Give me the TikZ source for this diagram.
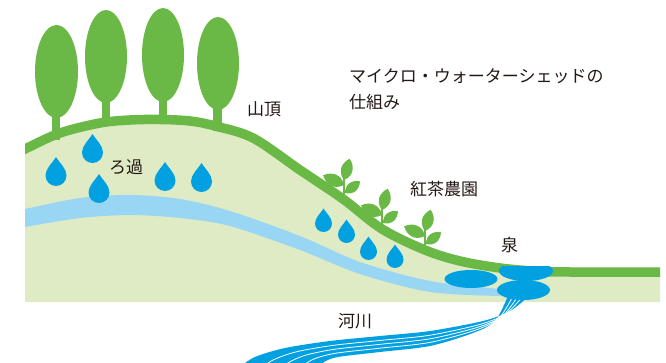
\documentclass[tikz,border=0pt]{standalone}
\usepackage{fontspec}
\newfontfamily\jpfont{Noto Sans CJK JP}
\usetikzlibrary{calc}
\definecolor{leafgreen}{RGB}{106,184,69}
\definecolor{groundgreen}{RGB}{222,235,196}
\definecolor{waterblue}{RGB}{0,160,225}
\definecolor{streamblue}{RGB}{152,214,244}
\definecolor{labeltext}{RGB}{35,24,21}
\tikzset{
  jplabel/.style={font=\jpfont\fontsize{17}{26}\selectfont, text=labeltext, inner sep=0pt, anchor=west, align=left},
  ridgeline/.style={draw=leafgreen, line width=9.5pt},
  drop/.pic={\fill[waterblue] (0,-1.75) .. controls (0.35,-1.2) and (1,-0.65) .. (1,0)
      .. controls (1,0.5523) and (0.5523,1) .. (0,1)
      .. controls (-0.5523,1) and (-1,0.5523) .. (-1,0)
      .. controls (-1,-0.65) and (-0.35,-1.2) .. (0,-1.75) -- cycle;},
  leaf/.pic={\fill[leafgreen] (0,0) .. controls (0.28,-0.36) and (0.7,-0.34) .. (1,0)
      .. controls (0.7,0.34) and (0.28,0.36) .. (0,0) -- cycle;},
  sprout/.pic={
    \fill[leafgreen] (-1.3,4) rectangle (1.3,-23);
    \pic[rotate=75, scale=22] at (0,-19) {leaf};
    \pic[rotate=155, scale=23] at (0,-14) {leaf};
    \pic[rotate=38, scale=19] at (1,-6) {leaf};
  },
}
\begin{document}
\begin{tikzpicture}[x=1pt,y=-1pt]
\useasboundingbox (0,0) rectangle (666,363);
\begin{scope}
\clip (0,0) rectangle (666,363);

% hillside: ground, underground stream, trunks, ridge line
\begin{scope}
\clip (25,0) rectangle (660,363);
\fill[groundgreen] plot[smooth,tension=0.55] coordinates {(15,154) (25,149) (60,133) (100,123) (130,120) (160,119.5) (190,121) (215,126) (253,138) (300,170) (343,199) (382,229) (425,250) (460,261) (500,268) (540,271.5) (570,272) (670,272)}
  -- (670,302) -- (15,302) -- cycle;
\fill[streamblue] plot[smooth] coordinates {(20,210) (25,209) (80,198) (130,195) (180,199) (230,211) (300,236) (360,262) (430,281) (500,289)}
  -- plot[smooth] coordinates {(500,296) (430,292) (360,274) (300,250) (230,226) (180,218) (130,215) (80,218) (25,227) (20,228)} -- cycle;
% tree trunks
\fill[leafgreen] (52,110) rectangle (60,140);
\fill[leafgreen] (102,95) rectangle (110,126);
\fill[leafgreen] (159,95) rectangle (167,124);
\fill[leafgreen] (213,100) rectangle (222,131);
% tea sprouts
\pic at (344,199) {sprout};
\pic at (382,229) {sprout};
\pic at (425,250) {sprout};
\draw[ridgeline] plot[smooth,tension=0.55] coordinates {(15,154) (25,149) (60,133) (100,123) (130,120) (160,119.5) (190,121) (215,126) (253,138) (300,170) (343,199) (382,229) (425,250) (460,261) (500,268) (540,271.5) (570,272) (670,272)};
\end{scope}

% tree crowns
\fill[leafgreen] (56.5,71.5) ellipse [x radius=21.5, y radius=46.5];
\fill[leafgreen] (106,56.5) ellipse [x radius=21, y radius=46.5];
\fill[leafgreen] (163,55) ellipse [x radius=21, y radius=47];
\fill[leafgreen] (218,63.5) ellipse [x radius=21, y radius=46.5];

% rain drops filtering through the soil
\pic[scale=10.5] at (92.5,152.5) {drop};
\pic[scale=10.5] at (56,175.5) {drop};
\pic[scale=10.5] at (99,192.5) {drop};
\pic[scale=10.5] at (165,180.5) {drop};
\pic[scale=10.5] at (201.5,181.5) {drop};
\pic[scale=8.5] at (323.5,223.5) {drop};
\pic[scale=8.5] at (346.5,234.5) {drop};
\pic[scale=8.5] at (368.5,251.5) {drop};
\pic[scale=8.5] at (395,259.5) {drop};

% river leaving the spring
\coordinate (u1) at (529,296); \coordinate (l1) at (508,296);
\coordinate (u2) at (510,311); \coordinate (l2) at (495,321);
\coordinate (u3) at (483,321); \coordinate (l3) at (473,333);
\coordinate (u4) at (430,331); \coordinate (l4) at (430,346);
\coordinate (u5) at (380,336); \coordinate (l5) at (380,352);
\coordinate (u6) at (330,341); \coordinate (l6) at (338,357);
\coordinate (u7) at (285,348); \coordinate (l7) at (324,362);
\coordinate (u8) at (255,357); \coordinate (l8) at (319,368);
\coordinate (u9) at (238,368); \coordinate (l9) at (317,372);
\fill[waterblue] plot[smooth] coordinates {(u1) (u2) (u3) (u4) (u5) (u6) (u7) (u8) (u9)}
  -- plot[smooth] coordinates {(l9) (l8) (l7) (l6) (l5) (l4) (l3) (l2) (l1)} -- cycle;
\foreach \f in {0.28,0.52,0.76}
  \draw[white, line width=0.8pt] plot[smooth] coordinates {($(u1)!\f!(l1)$) ($(u2)!\f!(l2)$) ($(u3)!\f!(l3)$) ($(u4)!\f!(l4)$) ($(u5)!\f!(l5)$) ($(u6)!\f!(l6)$) ($(u7)!\f!(l7)$) ($(u8)!\f!(l8)$) ($(u9)!\f!(l9)$)};

% spring pools
\fill[waterblue] (471,279) ellipse [x radius=26.5, y radius=9];
\begin{scope}
\clip (480,266.5) rectangle (580,300);
\fill[waterblue] (526,271) ellipse [x radius=27, y radius=10];
\end{scope}
\fill[waterblue] (523.5,290) ellipse [x radius=26.5, y radius=10];

% labels
\node[jplabel] (title) at (349,89) {マイクロ・ウォーターシェッドの\\仕組み};
\node[jplabel] (summit) at (247,109) {山頂};
\node[jplabel] (filter) at (109,167) {ろ過};
\node[jplabel] (teafarm) at (410,189.5) {紅茶農園};
\node[jplabel] (spring) at (501,245) {泉};
\node[jplabel] (river) at (338,321) {河川};
\end{scope}
\end{tikzpicture}
\end{document}
